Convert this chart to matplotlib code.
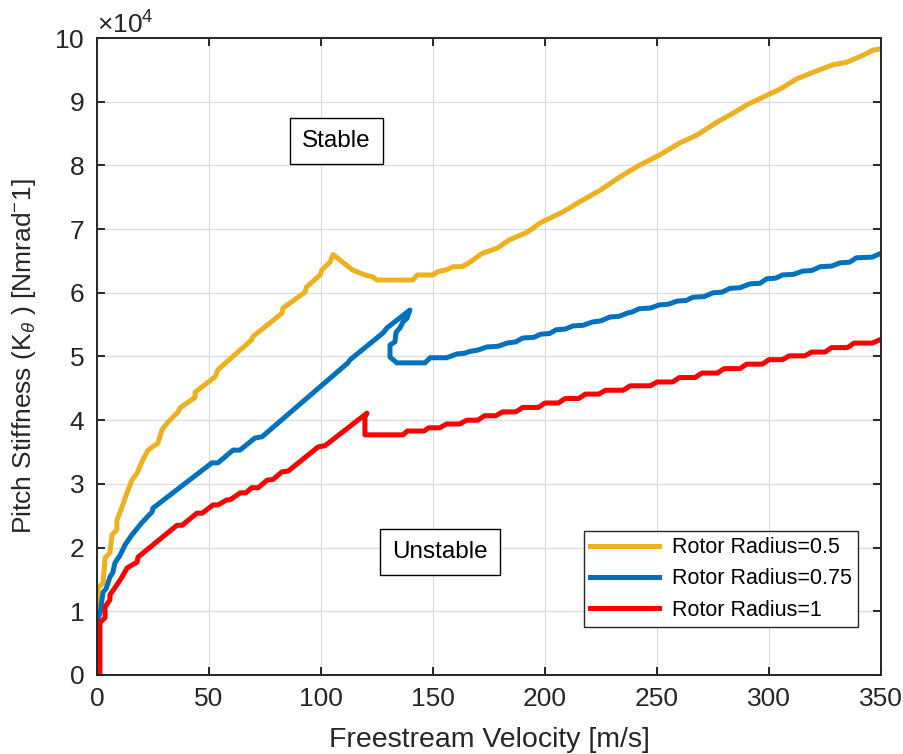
import matplotlib
matplotlib.use('agg')
import matplotlib.pyplot as plt
import numpy as np

plt.rcParams['font.family'] = ['Liberation Sans', 'DejaVu Sans']
plt.rcParams['mathtext.fontset'] = 'custom'
plt.rcParams['mathtext.rm'] = 'Liberation Sans'
plt.rcParams['mathtext.it'] = 'Liberation Sans:italic'

# stability boundaries, velocity [m/s] vs pitch stiffness [x1e4 Nm/rad]
v_r05 = [0.4, 0.4, 2.7, 3.6, 5.8, 6.7, 8.9, 8.9, 11.2, 13.4, 15.6, 17.9, 20.5, 22.8,
         27.2, 29, 31.7, 36.2, 37, 43.8, 43.8, 52.7, 54, 59, 69, 69.5, 82.6, 83, 92.9,
         93.5, 99.6, 100.4, 104, 105.4, 114, 116, 119.6, 123, 125, 141, 143, 150, 152,
         156, 159, 163, 166.5, 172, 178.6, 184, 192, 198, 208, 215.6, 224.6, 233.5, 242,
         251, 260, 268, 276.8, 284, 290.6, 299, 305, 312.5, 321, 328.6, 334.8, 342,
         346.4, 350]
k_r05 = [1.07, 1.37, 1.44, 1.84, 1.92, 2.2, 2.28, 2.43, 2.64, 2.86, 3.06, 3.17, 3.38, 3.53,
         3.64, 3.85, 3.97, 4.13, 4.19, 4.36, 4.44, 4.68, 4.79, 4.95, 5.26, 5.31, 5.68, 5.76,
         6.01, 6.09, 6.28, 6.36, 6.48, 6.6, 6.36, 6.33, 6.28, 6.25, 6.2, 6.2, 6.28, 6.28,
         6.33, 6.36, 6.41, 6.41, 6.48, 6.62, 6.7, 6.83, 6.95, 7.1, 7.27, 7.43, 7.61, 7.82,
         8.0, 8.16, 8.35, 8.48, 8.68, 8.82, 8.96, 9.1, 9.2, 9.36, 9.48, 9.58, 9.62, 9.73,
         9.81, 9.83]

v_r075 = [0.4, 1.5, 2.7, 4, 5.8, 7, 8, 10.3, 12.5, 15.6, 20, 24.6, 25, 51.3, 54, 60.7,
          63.8, 70.5, 73.7, 112, 113, 127.7, 129.5, 139.7, 138.4, 136.5, 135.3, 133.5,
          133, 130.8, 130.8, 133.9, 146.4, 148.7, 156, 160.7, 164, 166.5, 170, 174, 179,
          183, 187, 190, 195, 198, 202, 205, 209, 212.5, 217, 221, 225, 229, 233, 236.6,
          239, 242, 247, 251, 255, 259, 263, 266, 271, 275, 279, 282.6, 287, 291.5, 296,
          299, 303, 306, 311, 315, 319, 323, 328, 331.7, 336, 339, 346, 350]
k_r075 = [0.88, 1.0, 1.3, 1.35, 1.54, 1.6, 1.76, 1.88, 2.04, 2.2, 2.39, 2.56, 2.62, 3.33,
          3.33, 3.53, 3.53, 3.72, 3.74, 4.9, 4.95, 5.37, 5.45, 5.73, 5.6, 5.54, 5.45, 5.38,
          5.23, 5.18, 4.99, 4.9, 4.9, 4.98, 4.98, 5.04, 5.05, 5.08, 5.1, 5.15, 5.16, 5.21,
          5.23, 5.29, 5.3, 5.35, 5.36, 5.42, 5.43, 5.48, 5.49, 5.54, 5.56, 5.62, 5.63, 5.68,
          5.7, 5.75, 5.76, 5.81, 5.82, 5.87, 5.88, 5.93, 5.94, 6.0, 6.01, 6.07, 6.08, 6.14,
          6.15, 6.22, 6.23, 6.28, 6.29, 6.34, 6.35, 6.41, 6.42, 6.47, 6.48, 6.55, 6.56, 6.62]

v_r1 = [1.3, 1.3, 3.6, 3.6, 5.8, 5.8, 8, 10.3, 11.2, 12.5, 13.4, 17.9, 18.3, 35.7, 38,
        44.6, 47, 51.8, 54, 58, 59.4, 64, 66.5, 69, 72, 76, 78.6, 82.6, 85.3, 98.7, 101.8,
        120.5, 119.6, 119.6, 136.6, 138.5, 146, 148, 153, 156, 162, 165, 170, 173, 178,
        181, 187, 190, 197, 200, 206, 209, 215, 218, 224, 227, 235, 238, 247, 250, 257,
        260, 267, 270, 277, 280, 287, 290, 297, 300, 306, 309, 316, 319, 325, 328, 335,
        338, 346, 350]
k_r1 = [0.0, 0.82, 0.9, 1.07, 1.18, 1.26, 1.37, 1.49, 1.54, 1.62, 1.68, 1.77, 1.85, 2.35,
        2.35, 2.54, 2.54, 2.67, 2.67, 2.75, 2.75, 2.86, 2.86, 2.94, 2.94, 3.06, 3.07, 3.19,
        3.2, 3.58, 3.6, 4.11, 4.05, 3.77, 3.77, 3.83, 3.83, 3.88, 3.88, 3.94, 3.94, 4.0,
        4.0, 4.07, 4.07, 4.13, 4.13, 4.2, 4.2, 4.27, 4.27, 4.34, 4.34, 4.41, 4.41, 4.47,
        4.47, 4.54, 4.54, 4.6, 4.6, 4.67, 4.67, 4.74, 4.74, 4.81, 4.81, 4.88, 4.88, 4.95,
        4.95, 5.01, 5.01, 5.07, 5.07, 5.14, 5.14, 5.21, 5.21, 5.27]

series = [
    (v_r05, k_r05, '#EDB120', 'Rotor Radius=0.5'),
    (v_r075, k_r075, '#0072BD', 'Rotor Radius=0.75'),
    (v_r1, k_r1, '#FF0000', 'Rotor Radius=1'),
]

fig = plt.figure(figsize=(9.04, 7.54), dpi=100)
ax = fig.add_axes([0.1073, 0.1048, 0.8673, 0.8448])

for v, k, c, lab in series:
    ax.plot(v, np.array(k) * 1e4, color=c, lw=3.6, label=lab, solid_joinstyle='round')

ax.set_xlim(0, 350)
ax.set_ylim(0, 1e5)
ax.set_xticks(np.arange(0, 351, 50))
ax.set_yticks(np.arange(0, 1e5 + 1, 1e4))
ax.ticklabel_format(axis='y', style='sci', scilimits=(4, 4), useMathText=True)
ax.yaxis.get_offset_text().set_fontsize(19)
ax.yaxis.get_offset_text().set_color('#262626')

ax.grid(True, color='#dcdcdc', lw=0.9)
ax.set_axisbelow(True)
for s in ax.spines.values():
    s.set_linewidth(1.4)
    s.set_color('#262626')
ax.tick_params(direction='in', length=6, width=1.4, color='#262626',
               top=True, right=True, labelsize=19, labelcolor='#262626', pad=9)

ax.set_xlabel('Freestream Velocity [m/s]', fontsize=20.5, color='#262626', labelpad=11)
ax.set_ylabel(r'Pitch Stiffness (K$_{\theta}$ ) [Nmrad$^{-}$1]', fontsize=19,
              color='#262626', labelpad=12)

box = dict(boxstyle='square,pad=0.5', fc='white', ec='black', lw=1)
ax.text(107, 8.38e4, 'Stable', fontsize=17.5, ha='center', va='center', bbox=box)
ax.text(153, 1.93e4, 'Unstable', fontsize=17.5, ha='center', va='center', bbox=box)

leg = ax.legend(loc='lower right', bbox_to_anchor=(0.971, 0.075), fontsize=15.5,
                handlelength=3.2, fancybox=False, framealpha=1, borderaxespad=0,
                labelspacing=0.48, borderpad=0.3, handletextpad=0.6)
leg.get_frame().set_edgecolor('#262626')
leg.get_frame().set_linewidth(1)

fig.savefig('out.png', dpi=100)
